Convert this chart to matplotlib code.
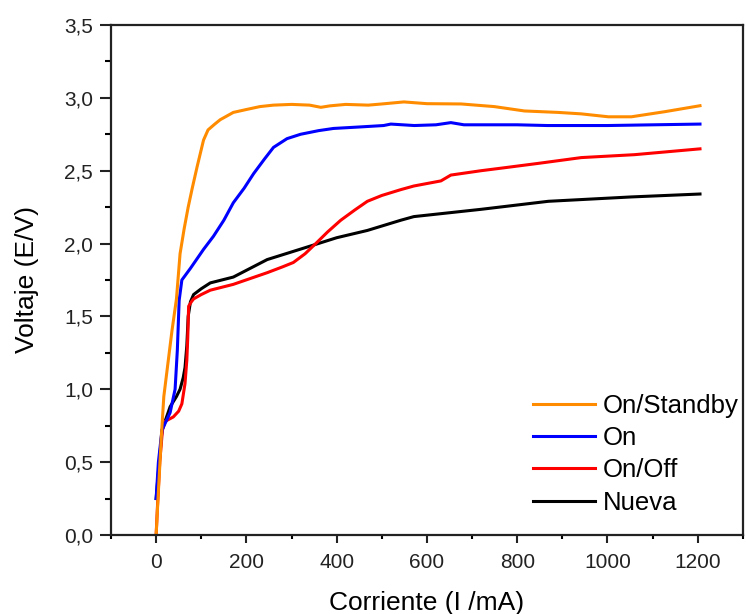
import matplotlib
matplotlib.use("Agg")
import matplotlib.pyplot as plt
from matplotlib.ticker import MultipleLocator, FuncFormatter

plt.rcParams['font.family'] = ['Liberation Sans', 'DejaVu Sans']

# On/Standby (orange)
standby_x = [0, 5, 12, 17, 25, 35, 45, 53, 62, 71, 80, 91, 105, 115, 130, 142, 171, 200, 230, 260, 300,
             340, 365, 385, 420, 470, 500, 549, 600, 676, 749, 816, 891, 942, 1002, 1053, 1127, 1205]
standby_y = [0.0, 0.3, 0.7, 0.95, 1.15, 1.4, 1.62, 1.93, 2.1, 2.25, 2.38, 2.53, 2.71, 2.78, 2.82, 2.85,
             2.90, 2.92, 2.94, 2.95, 2.955, 2.95, 2.935, 2.945, 2.955, 2.95, 2.958, 2.972, 2.96, 2.958,
             2.94, 2.91, 2.90, 2.89, 2.87, 2.87, 2.905, 2.946]

# On (blue)
on_x = [0, 5, 13, 31, 42, 47, 51, 57, 76, 105, 127, 150, 171, 195, 216, 240, 260, 290, 320, 360, 393,
        450, 504, 520, 572, 620, 653, 682, 800, 867, 1000, 1205]
on_y = [0.25, 0.5, 0.72, 0.84, 1.0, 1.27, 1.61, 1.75, 1.83, 1.96, 2.05, 2.16, 2.28, 2.38, 2.48, 2.58,
        2.66, 2.72, 2.75, 2.775, 2.79, 2.80, 2.81, 2.82, 2.81, 2.815, 2.83, 2.815, 2.815, 2.81, 2.81, 2.82]

# On/Off (red)
onoff_x = [0, 3, 8, 14, 20, 38, 50, 57, 64, 68, 70, 72, 78, 83, 100, 120, 171, 246, 280, 304, 330, 357,
           380, 409, 440, 468, 500, 542, 571, 631, 653, 720, 771, 846, 942, 1060, 1205]
onoff_y = [0.0, 0.2, 0.5, 0.72, 0.78, 0.81, 0.85, 0.9, 1.04, 1.2, 1.35, 1.57, 1.60, 1.62, 1.65, 1.68,
           1.72, 1.80, 1.84, 1.87, 1.93, 2.01, 2.08, 2.16, 2.23, 2.29, 2.33, 2.37, 2.395, 2.43, 2.47,
           2.50, 2.52, 2.55, 2.59, 2.61, 2.65]

# Nueva (black)
nueva_x = [0, 13, 31, 45, 53, 60, 64, 68, 71, 76, 83, 100, 120, 171, 246, 349, 400, 468, 542, 571, 720,
           869, 1053, 1205]
nueva_y = [0.25, 0.72, 0.88, 0.95, 1.0, 1.08, 1.15, 1.3, 1.5, 1.6, 1.65, 1.69, 1.73, 1.77, 1.89, 1.99,
           2.04, 2.09, 2.16, 2.185, 2.235, 2.29, 2.32, 2.34]

x_ticks = [0, 200, 400, 600, 800, 1000, 1200]
y_ticks = [0.0, 0.5, 1.0, 1.5, 2.0, 2.5, 3.0, 3.5]

fig = plt.figure(figsize=(7.46, 6.14), dpi=100)
ax = fig.add_axes([0.1488, 0.1287, 0.847, 0.8306])

lw = 2.2
l_nueva, = ax.plot(nueva_x, nueva_y, color='black', lw=lw, label='Nueva')
l_onoff, = ax.plot(onoff_x, onoff_y, color='#ff0000', lw=lw, label='On/Off')
l_on, = ax.plot(on_x, on_y, color='#0000ff', lw=lw, label='On')
l_sb, = ax.plot(standby_x, standby_y, color='#ff8c00', lw=lw, label='On/Standby')

ax.set_xlim(-100, 1300)
ax.set_ylim(0, 3.5)
ax.set_xticks(x_ticks)
ax.set_yticks(y_ticks)
ax.xaxis.set_minor_locator(MultipleLocator(100))
ax.yaxis.set_minor_locator(MultipleLocator(0.25))
ax.yaxis.set_major_formatter(FuncFormatter(lambda v, p: f"{v:.1f}".replace('.', ',')))
ax.tick_params(which='major', direction='out', width=1.5, labelsize=15, colors='#222222')
ax.tick_params(axis='y', which='major', length=8, pad=5)
ax.tick_params(axis='x', which='major', length=6, pad=7)
ax.tick_params(axis='y', which='minor', direction='out', length=4, width=1.5)
ax.tick_params(axis='x', which='minor', direction='out', length=3, width=1.5)
for s in ax.spines.values():
    s.set_linewidth(1.6)
    s.set_color('#222222')

ax.set_xlabel('Corriente (I /mA)', fontsize=19, labelpad=14)
ax.set_ylabel('Voltaje (E/V)', fontsize=19, labelpad=18)

leg = ax.legend(handles=[l_sb, l_on, l_onoff, l_nueva], loc='lower right',
                bbox_to_anchor=(1.009, 0.02), frameon=False, fontsize=18.5,
                handlelength=2.4, handletextpad=0.3, labelspacing=0.32, borderaxespad=0.0)

fig.savefig('out.png', dpi=100)
